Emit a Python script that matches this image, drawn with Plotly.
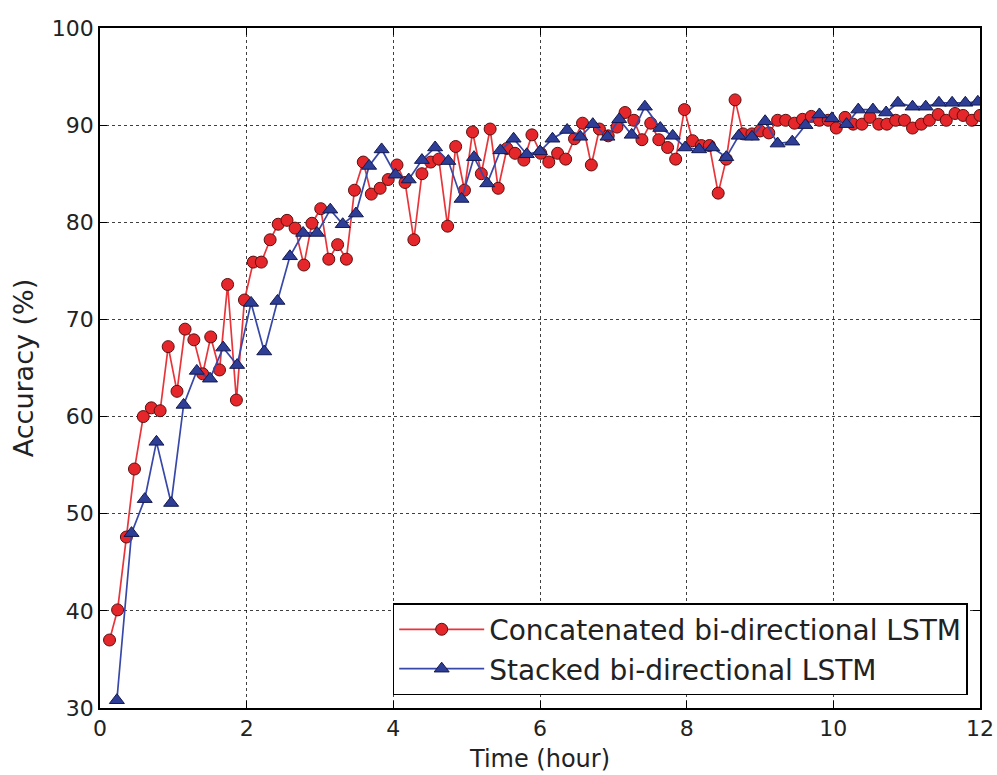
import plotly.graph_objects as go

# Elapsed training time (hours) at each evaluation point
concat_time = [
    0.13, 0.24, 0.36, 0.47, 0.59, 0.70, 0.82, 0.93, 1.05, 1.16,
    1.28, 1.40, 1.51, 1.63, 1.74, 1.86, 1.97, 2.09, 2.20, 2.32,
    2.43, 2.55, 2.66, 2.78, 2.89, 3.01, 3.12, 3.24, 3.36, 3.47,
    3.59, 3.70, 3.82, 3.93, 4.05, 4.16, 4.28, 4.39, 4.51, 4.62,
    4.74, 4.85, 4.97, 5.08, 5.20, 5.32, 5.43, 5.55, 5.66, 5.78,
    5.89, 6.01, 6.12, 6.24, 6.35, 6.47, 6.58, 6.70, 6.81, 6.93,
    7.05, 7.16, 7.28, 7.39, 7.51, 7.62, 7.74, 7.85, 7.97, 8.08,
    8.20, 8.31, 8.43, 8.54, 8.66, 8.77, 8.89, 9.00, 9.12, 9.24,
    9.35, 9.47, 9.58, 9.70, 9.81, 9.93, 10.04, 10.16, 10.27, 10.39,
    10.50, 10.62, 10.73, 10.85, 10.97, 11.08, 11.20, 11.31, 11.43, 11.54,
    11.66, 11.77, 11.89, 12.00,
]
concat_acc = [
    37.0, 40.1, 47.6, 54.6, 60.0, 60.9, 60.6, 67.2, 62.6, 69.0,
    67.9, 64.4, 68.2, 64.8, 73.6, 61.7, 72.0, 75.9, 75.9, 78.2,
    79.8, 80.2, 79.4, 75.6, 79.9, 81.4, 76.2, 77.7, 76.2, 83.3,
    86.2, 82.9, 83.5, 84.4, 85.9, 84.1, 78.2, 85.0, 86.2, 86.5,
    79.6, 87.8, 83.3, 89.3, 85.0, 89.6, 83.5, 87.6, 87.1, 86.4,
    89.0, 87.1, 86.2, 87.1, 86.5, 88.6, 90.2, 85.9, 89.6, 88.9,
    89.8, 91.3, 90.5, 88.5, 90.2, 88.5, 87.7, 86.5, 91.6, 88.4,
    87.9, 87.9, 83.0, 86.5, 92.6, 89.1, 89.1, 89.4, 89.2, 90.5,
    90.5, 90.2, 90.6, 90.9, 90.5, 90.5, 89.7, 90.8, 90.1, 90.1,
    90.8, 90.1, 90.1, 90.5, 90.5, 89.7, 90.1, 90.5, 91.1, 90.5,
    91.2, 91.0, 90.5, 91.0,
]

stacked_time = [
    0.23, 0.43, 0.61, 0.77, 0.97, 1.14, 1.32, 1.50, 1.68, 1.87,
    2.06, 2.24, 2.42, 2.59, 2.77, 2.96, 3.14, 3.31, 3.49, 3.67,
    3.84, 4.03, 4.21, 4.39, 4.57, 4.75, 4.93, 5.10, 5.28, 5.46,
    5.64, 5.82, 6.00, 6.17, 6.37, 6.55, 6.72, 6.92, 7.08, 7.25,
    7.43, 7.64, 7.81, 7.98, 8.17, 8.35, 8.54, 8.71, 8.89, 9.07,
    9.24, 9.44, 9.62, 9.81, 9.98, 10.18, 10.34, 10.54, 10.72, 10.88,
    11.08, 11.26, 11.44, 11.62, 11.80, 11.97,
]
stacked_acc = [
    30.8, 48.0, 51.5, 57.4, 51.1, 61.2, 64.7, 63.9, 67.1, 65.3,
    71.7, 66.7, 71.9, 76.5, 78.9, 78.9, 81.3, 79.8, 80.9, 85.8,
    87.5, 84.9, 84.4, 86.4, 87.7, 86.3, 82.4, 86.7, 84.0, 87.4,
    88.6, 87.0, 87.3, 88.6, 89.5, 88.8, 90.1, 88.8, 90.6, 89.0,
    91.9, 89.7, 88.9, 87.7, 87.5, 87.7, 86.7, 88.9, 88.8, 90.4,
    88.1, 88.3, 90.0, 91.1, 90.7, 90.1, 91.6, 91.6, 91.3, 92.3,
    91.9, 91.9, 92.3, 92.3, 92.3, 92.4,
]

x_ticks = [0, 2, 4, 6, 8, 10, 12]
y_ticks = [30, 40, 50, 60, 70, 80, 90, 100]

FONT = "DejaVu Sans, sans-serif"

fig = go.Figure()
fig.add_trace(go.Scatter(
    x=concat_time, y=concat_acc, mode="lines+markers",
    name="Concatenated bi-directional LSTM",
    line=dict(color="#E8353A", width=1.7),
    marker=dict(symbol="circle", size=12, color="#E5262B",
                line=dict(color="#5a1010", width=1)),
))
fig.add_trace(go.Scatter(
    x=stacked_time, y=stacked_acc, mode="lines+markers",
    name="Stacked bi-directional LSTM",
    line=dict(color="#3848A8", width=1.7),
    marker=dict(symbol="triangle-up", size=13, color="#2E3D96",
                line=dict(color="#121a50", width=1)),
))

axis_common = dict(
    automargin=False,
    showline=True, linecolor="black", linewidth=1.5, mirror="ticks",
    ticks="inside", ticklen=7, tickwidth=1.2, tickcolor="black",
    showgrid=True, gridcolor="rgba(0,0,0,0.75)", griddash="dot", gridwidth=1,
    zeroline=False, tickfont=dict(family=FONT, size=22, color="#222"),
)

fig.update_xaxes(range=[0, 12], tickvals=x_ticks,
                 title=dict(text="Time (hour)", standoff=10,
                            font=dict(family=FONT, size=24, color="#222")),
                 **axis_common)
fig.update_yaxes(range=[30, 100], tickvals=y_ticks,
                 title=dict(text="Accuracy (%)", standoff=10,
                            font=dict(family=FONT, size=27, color="#222")),
                 **axis_common)

fig.update_layout(
    width=997, height=775,
    margin=dict(l=100, r=17, t=28, b=67),
    paper_bgcolor="white", plot_bgcolor="white",
    font=dict(family=FONT, color="#222"),
    legend=dict(
        x=0.986, y=0.019, xanchor="right", yanchor="bottom",
        bgcolor="white", bordercolor="black", borderwidth=1.5,
        font=dict(family=FONT, size=28, color="#222"),
        itemwidth=85,
    ),
    showlegend=True,
)

fig.write_html("out.html")
